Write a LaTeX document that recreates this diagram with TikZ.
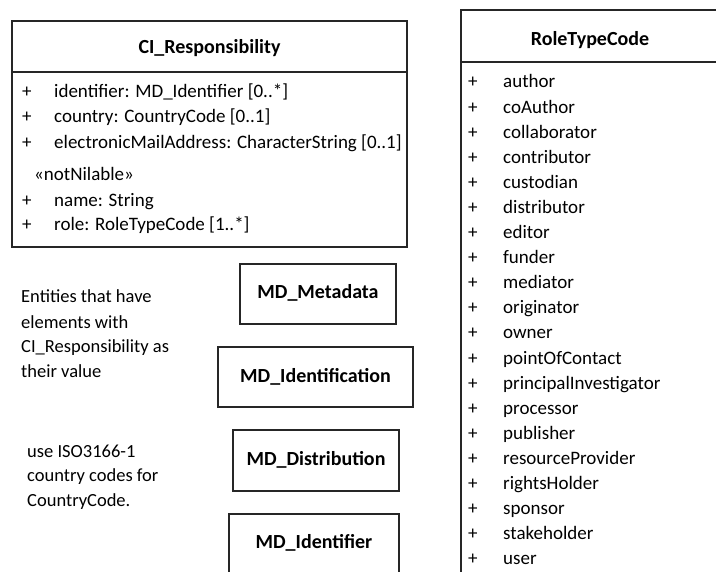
\documentclass[tikz,border=0pt]{standalone}
\usepackage{fontspec}
\setmainfont{Carlito}
\begin{document}
\begin{tikzpicture}[x=1pt,y=-1pt,
  box/.style={draw=black!85,line width=1.4pt},
  txt/.style={font=\fontsize{19}{21}\selectfont,anchor=base west,inner sep=0pt},
  ttl/.style={font=\fontsize{20}{22}\selectfont\bfseries,inner sep=0pt},
  note/.style={font=\fontsize{18.5}{25}\selectfont,align=left,anchor=base west,inner sep=0pt},
]
\useasboundingbox (0,0) rectangle (716,572);
\fill[white] (0,0) rectangle (716,572);
\clip (0,0) rectangle (716,572);
% CI_Responsibility
\draw[box] (12,21) rectangle (407,247);
\draw[box] (12,72) -- (407,72);
\node[ttl] (ciT) at (209.5,48) {CI\_Responsibility};
\foreach \n/\y/\t in {a/98/{identifier: MD\_Identifier [0..*]},
                      b/123/{country: CountryCode [0..1]},
                      c/149/{electronicMailAddress: CharacterString [0..1]},
                      d/207/{name: String},
                      e/231/{role: RoleTypeCode [1..*]}}{
  \node[txt] (ciP\n) at (22,\y) {+};
  \node[txt] (ciA\n) at (54,\y) {\t};
}
\node[txt] (ciS) at (34,181) {«notNilable»};
% RoleTypeCode
\draw[box] (730,10) -- (461,10) -- (461,590);
\draw[box] (461,62) -- (730,62);
\node[ttl] (rtT) at (590,40) {RoleTypeCode};
\foreach \t [count=\i from 0] in {author,coAuthor,collaborator,contributor,custodian,distributor,editor,funder,mediator,originator,owner,pointOfContact,principalInvestigator,processor,publisher,resourceProvider,rightsHolder,sponsor,stakeholder,user}{
  \node[txt] (rtP\i) at (468,88+25.1*\i) {+};
  \node[txt] (rtA\i) at (503,88+25.1*\i) {\t};
}
% MD boxes
\draw[box] (240,264) rectangle (396,324);
\node[ttl] (mdM) at (318,293) {MD\_Metadata};
\draw[box] (218,347) rectangle (413,407);
\node[ttl] (mdI) at (315.5,377) {MD\_Identification};
\draw[box] (233,430) rectangle (399,491);
\node[ttl] (mdD) at (316,460) {MD\_Distribution};
\draw[box] (229,514) rectangle (399,600);
\node[ttl] (mdF) at (314,543) {MD\_Identifier};
% notes
\node[note] (n1) at (21,378) {Entities that have\\elements with\\CI\_Responsibility as\\their value};
\node[note] (n2) at (27,507) {use ISO3166-1\\country codes for\\CountryCode.};
\end{tikzpicture}
\end{document}
